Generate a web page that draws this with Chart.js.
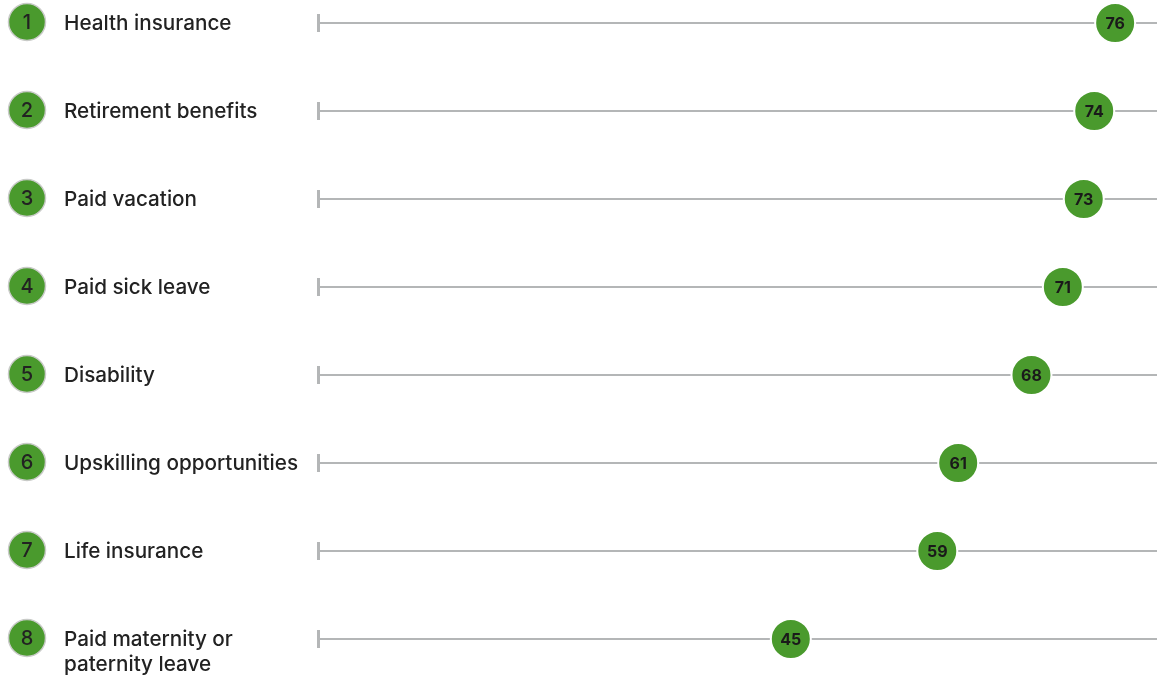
<!DOCTYPE html>
<html>
<head>
<meta charset="utf-8">
<script src="https://cdn.jsdelivr.net/npm/chart.js@4"></script>
<style>
	html, body { margin: 0; padding: 0; background: #fff; }
	#wrap { position: relative; width: 1157px; height: 677px; }
</style>
</head>
<body>
<div id="wrap"><canvas id="benefits"></canvas></div>
<script>
(() => {
	'use strict'

	// Data
	const categories = [
		['Health insurance'],
		['Retirement benefits'],
		['Paid vacation'],
		['Paid sick leave'],
		['Disability'],
		['Upskilling opportunities'],
		['Life insurance'],
		['Paid maternity or', 'paternity leave']
	];
	const values = [76, 74, 73, 71, 68, 61, 59, 45];
	const axisMax = 80;

	// Colors
	const greenColor = '#4a9a2d';
	const trackColor = '#b4b6b7';
	const textColor = '#222222';
	const fontFamily = 'Inter, "Noto Sans", sans-serif';

	// Draws track lines, start ticks, rank circles and row labels
	const rowDecor = {
		id: 'rowDecor',
		beforeDatasetsDraw(chart) {
			const { ctx, scales: { y }, chartArea } = chart;
			ctx.save();
			categories.forEach((lines, i) => {
				const yPos = y.getPixelForValue(i);

				// track
				ctx.strokeStyle = trackColor;
				ctx.lineWidth = 2;
				ctx.beginPath();
				ctx.moveTo(chartArea.left - 2, yPos);
				ctx.lineTo(1157, yPos);
				ctx.stroke();

				// start tick
				ctx.lineWidth = 3;
				ctx.beginPath();
				ctx.moveTo(chartArea.left - 1.5, yPos - 9);
				ctx.lineTo(chartArea.left - 1.5, yPos + 9);
				ctx.stroke();

				// rank circle
				const cy = yPos - 1;
				ctx.beginPath();
				ctx.arc(27, cy, 18.5, 0, Math.PI * 2);
				ctx.fillStyle = greenColor;
				ctx.fill();
				ctx.lineWidth = 1.5;
				ctx.strokeStyle = '#c9cbc8';
				ctx.stroke();

				ctx.fillStyle = textColor;
				ctx.font = '500 20px ' + fontFamily;
				ctx.textAlign = 'center';
				ctx.textBaseline = 'middle';
				ctx.fillText(String(i + 1), 27, cy + 1);

				// label
				ctx.font = '500 20.7px ' + fontFamily;
				ctx.textAlign = 'left';
				lines.forEach((line, j) => {
					ctx.fillText(line, 64, cy + 1.5 + j * 25);
				});
			});
			ctx.restore();
		},
		afterDatasetsDraw(chart) {
			const { ctx } = chart;
			const meta = chart.getDatasetMeta(0);
			ctx.save();
			ctx.fillStyle = '#1a1a1a';
			ctx.font = '700 16px ' + fontFamily;
			ctx.textAlign = 'center';
			ctx.textBaseline = 'middle';
			meta.data.forEach((pt, i) => {
				ctx.fillText(String(values[i]), pt.x, pt.y + 1);
			});
			ctx.restore();
		}
	};

	const configChart = {
		type: 'line',
		data: {
			labels: categories.map(c => c.join(' ')),
			datasets: [{
				label: 'Share',
				data: values,
				showLine: false,
				clip: false,
				pointRadius: 20,
				pointHoverRadius: 20,
				pointBackgroundColor: greenColor,
				pointBorderColor: '#ffffff',
				pointBorderWidth: 2
			}]
		},
		options: {
			indexAxis: 'y',
			responsive: true,
			maintainAspectRatio: false,
			animation: false,
			layout: {
				autoPadding: false,
				padding: { left: 320, right: -2, top: 23, bottom: 38 }
			},
			plugins: {
				legend: { display: false },
				tooltip: { enabled: false },
				title: { display: false }
			},
			scales: {
				x: {
					type: 'linear',
					min: 0,
					max: axisMax,
					display: false
				},
				y: {
					type: 'category',
					offset: false,
					display: false
				}
			}
		},
		plugins: [rowDecor]
	};

	new Chart(document.getElementById('benefits'), configChart);
})()
</script>
</body>
</html>
